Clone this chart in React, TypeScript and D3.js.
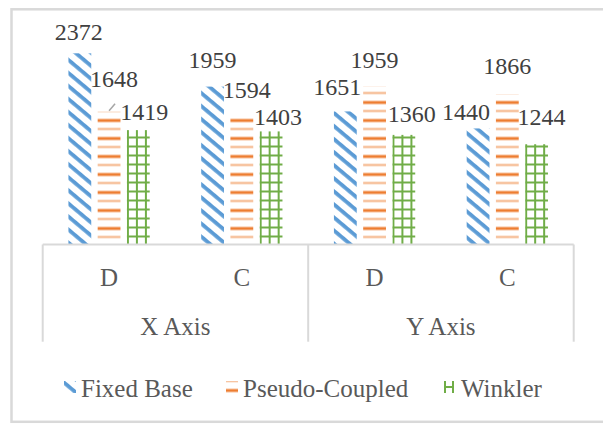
import React from "react";
import * as d3 from "d3";

// Chart data
const groups = ["X Axis", "Y Axis"];
const categories = ["D", "C", "D", "C"];
const seriesNames = ["Fixed Base", "Pseudo-Coupled", "Winkler"];
const fixedBase = [2372, 1959, 1651, 1440];
const pseudoCoupled = [1648, 1594, 1959, 1866];
const winkler = [1419, 1403, 1360, 1244];
const seriesValues = [fixedBase, pseudoCoupled, winkler];

// Manual label placement offsets [dx, dy] per series per category
const labelNudges: [number, number][][] = [
  [[-1, -5], [0, -11], [-8, -8], [-12, 0]],
  [[5, -17], [5, -10], [0, -11], [0, -12]],
  [[6, -2], [7, 2], [8, -5], [5, -11]],
];

const W = 603;
const H = 426;
const AXIS_LEFT = 42.7;
const AXIS_RIGHT = 573.7;
const BASE_Y = 244.5;
const AXIS_BOTTOM = 341.7;

const colors = ["#5B9BD5", "#ED7D31", "#70AD47"];
const labelFont = "'Liberation Serif', 'Times New Roman', serif";

export default function App() {
  const x0 = d3
    .scaleBand<number>()
    .domain(d3.range(categories.length))
    .range([AXIS_LEFT, AXIS_RIGHT])
    .paddingInner(0)
    .paddingOuter(0);
  const x1 = d3
    .scaleBand<number>()
    .domain(d3.range(seriesNames.length))
    .range([0, x0.bandwidth()])
    .paddingInner(0.22)
    .paddingOuter(0.88);
  const y = d3.scaleLinear().domain([0, 2500]).range([BASE_Y, 43]);

  const groupWidth = (AXIS_RIGHT - AXIS_LEFT) / groups.length;
  const legendSwatchX = [64, 226, 444];

  const bars: React.ReactNode[] = [];
  const labels: React.ReactNode[] = [];
  const patterns: React.ReactNode[] = [];

  seriesValues.forEach((vals, s) => {
    vals.forEach((v, c) => {
      const bx = (x0(c) ?? 0) + (x1(s) ?? 0);
      const bw = x1.bandwidth();
      const top = y(v);
      const id = `p-${s}-${c}`;
      if (s === 2) {
        patterns.push(
          <pattern key={id} id={id} patternUnits="userSpaceOnUse" x={bx} y={BASE_Y} width={9} height={9}>
            <rect x={0} y={0} width={2} height={9} fill={colors[2]} />
            <rect x={0} y={0} width={9} height={2} fill={colors[2]} />
          </pattern>
        );
      }
      const fill = s === 0 ? "url(#pat-fb)" : s === 1 ? "url(#pat-pc)" : `url(#${id})`;
      bars.push(
        <rect key={`b-${s}-${c}`} x={bx} y={top} width={bw} height={BASE_Y - top} fill={fill} />
      );
      const [dx, dy] = labelNudges[s][c];
      labels.push(
        <text
          key={`l-${s}-${c}`}
          x={bx + bw / 2 + dx}
          y={top - 8 + dy}
          textAnchor="middle"
          fontFamily={labelFont}
          fontSize={24}
          fill="#404040"
        >
          {v}
        </text>
      );
      if (s === 1 && c === 0) {
        // leader line from the label back to its bar
        labels.push(
          <line
            key="leader"
            x1={bx + bw / 2}
            y1={top - 1}
            x2={bx + bw / 2 + 6}
            y2={top - 8}
            stroke="#a6a6a6"
            strokeWidth={1.5}
          />
        );
      }
    });
  });

  return (
    <svg
      width={W}
      height={H}
      style={{ position: "absolute", left: 0, top: 0, background: "#fff" }}
    >
      <defs>
        <pattern id="pat-fb" patternUnits="userSpaceOnUse" width={10} height={10} patternTransform="rotate(40)">
          <rect x={0} y={0} width={10} height={3.8} fill={colors[0]} />
        </pattern>
        <pattern id="pat-pc" patternUnits="userSpaceOnUse" width={10} height={18} y={BASE_Y}>
          <rect x={0} y={0.5} width={10} height={3} fill={colors[1]} />
          <rect x={0} y={9.5} width={10} height={2} fill="#F4B183" />
        </pattern>
        <pattern id="pat-wk-legend" patternUnits="userSpaceOnUse" x={444} y={381} width={12} height={12}>
          <rect x={0} y={0} width={2} height={12} fill={colors[2]} />
          <rect x={8} y={0} width={2} height={12} fill={colors[2]} />
          <rect x={0} y={5} width={10} height={2} fill={colors[2]} />
        </pattern>
        {patterns}
      </defs>

      {/* chart frame */}
      <rect x={11.5} y={9.3} width={620} height={412.5} fill="none" stroke="#d9d9d9" strokeWidth={2.5} />

      {bars}

      {/* multi-level category axis */}
      <g stroke="#d9d9d9" strokeWidth={2} fill="none">
        <line x1={AXIS_LEFT} x2={AXIS_RIGHT} y1={BASE_Y} y2={BASE_Y} />
        {d3.range(groups.length + 1).map((g) => (
          <line
            key={g}
            x1={AXIS_LEFT + g * groupWidth}
            x2={AXIS_LEFT + g * groupWidth}
            y1={BASE_Y}
            y2={AXIS_BOTTOM}
          />
        ))}
      </g>
      {categories.map((c, i) => (
        <text
          key={`c-${i}`}
          x={(x0(i) ?? 0) + x0.bandwidth() / 2}
          y={285.5}
          textAnchor="middle"
          fontFamily={labelFont}
          fontSize={25}
          fill="#595959"
        >
          {c}
        </text>
      ))}
      {groups.map((g, i) => (
        <text
          key={`g-${i}`}
          x={AXIS_LEFT + (i + 0.5) * groupWidth}
          y={334.5}
          textAnchor="middle"
          fontFamily={labelFont}
          fontSize={25}
          fill="#595959"
        >
          {g}
        </text>
      ))}

      {labels}

      {/* legend */}
      {seriesNames.map((name, s) => (
        <g key={`lg-${s}`}>
          <rect
            x={legendSwatchX[s]}
            y={381}
            width={12}
            height={12}
            fill={s === 0 ? "url(#pat-fb)" : s === 1 ? "url(#pat-pc)" : "url(#pat-wk-legend)"}
          />
          <text
            x={legendSwatchX[s] + 17}
            y={396.5}
            fontFamily={labelFont}
            fontSize={25}
            fill="#595959"
          >
            {name}
          </text>
        </g>
      ))}
    </svg>
  );
}
